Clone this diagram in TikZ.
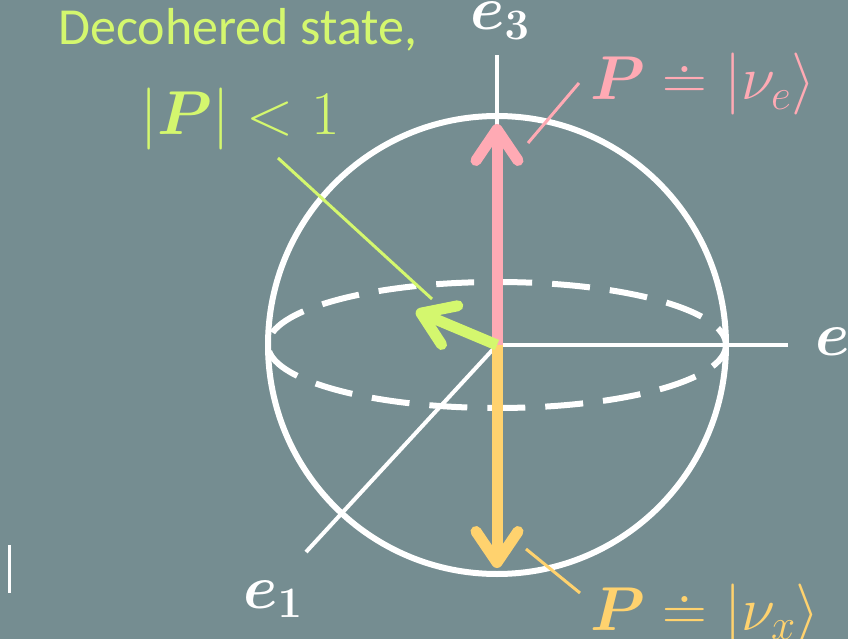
\RequirePackage{fix-cm}
\documentclass[tikz,border=0pt]{standalone}
\usepackage{fontspec}
\usepackage{amsmath,bm}
\newfontfamily\calibri{Carlito}
\usetikzlibrary{arrows.meta}
\definecolor{bgc}{RGB}{117,141,145}
\definecolor{pinkc}{RGB}{255,170,180}
\definecolor{yelc}{RGB}{255,210,110}
\definecolor{grnc}{RGB}{212,247,110}
\begin{document}
\begin{tikzpicture}[x=1pt,y=-1pt,
  axis/.style={white,line width=4pt},
  sphere/.style={white,line width=6pt},
  vec/.style={line width=11pt,-{Straight Barb[round,length=31pt,width=42pt]}},
  leader/.style={line width=3pt},
  lab/.style={inner sep=0pt,anchor=base west},
  big/.style={font=\fontsize{62}{70}\selectfont}]
\fill[bgc] (0,0) rectangle (848,639);
\useasboundingbox (0,0) rectangle (848,639);
% coordinates
\coordinate (O) at (497,345);
\coordinate (a3) at (497,55);
\coordinate (a2) at (788,345);
\coordinate (a1) at (306,552);
\coordinate (ptip) at (497,124);
\coordinate (ytip) at (497,568);
\coordinate (gtip) at (416,311);
\coordinate (pl1) at (528,143);
\coordinate (pl2) at (579,83);
\coordinate (yl1) at (526,549);
\coordinate (yl2) at (580,593);
\coordinate (gl1) at (278,158);
\coordinate (gl2) at (432,299);
\coordinate (bar1) at (9,545);
\coordinate (bar2) at (9,593);
% sphere
\draw[sphere] (O) circle[radius=229];
\draw[sphere,dash pattern=on 38pt off 20pt,dash phase=12pt] (O) ellipse[x radius=229,y radius=63];
% axes
\draw[axis] (O) -- (a3);
\draw[axis] (O) -- (a2);
\draw[axis] (O) -- (a1);
\draw[white,line width=3pt] (bar1) -- (bar2);
% vectors
\draw[vec,pinkc] (O) -- (ptip);
\draw[vec,yelc] (O) -- (ytip);
\draw[vec,grnc] (O) -- (gtip);
% leaders
\draw[leader,pinkc] (pl1) -- (pl2);
\draw[leader,yelc] (yl1) -- (yl2);
\draw[leader,grnc] (gl1) -- (gl2);
% labels
\node[lab,text=grnc,font=\calibri\fontsize{52}{60}\selectfont] (dec) at (58,45) {Decohered state,};
\node[lab,big,text=grnc] (pless) at (140,135) {$|\bm{P}| < 1$};
\node[lab,big,text=white] (e3) at (470,30) {$\bm{e}_{\bm{3}}$};
\node[lab,big,text=white] (e2) at (815,355) {$\bm{e}_{\bm{2}}$};
\node[lab,big,text=white] (e1) at (243,608) {$\bm{e}_{\bm{1}}$};
\node[lab,big,text=pinkc] (pe) at (590,100) {$\bm{P} \doteq |\nu_e\rangle$};
\node[lab,big,text=yelc] (px) at (590,630) {$\bm{P} \doteq |\nu_x\rangle$};
\end{tikzpicture}
\end{document}
